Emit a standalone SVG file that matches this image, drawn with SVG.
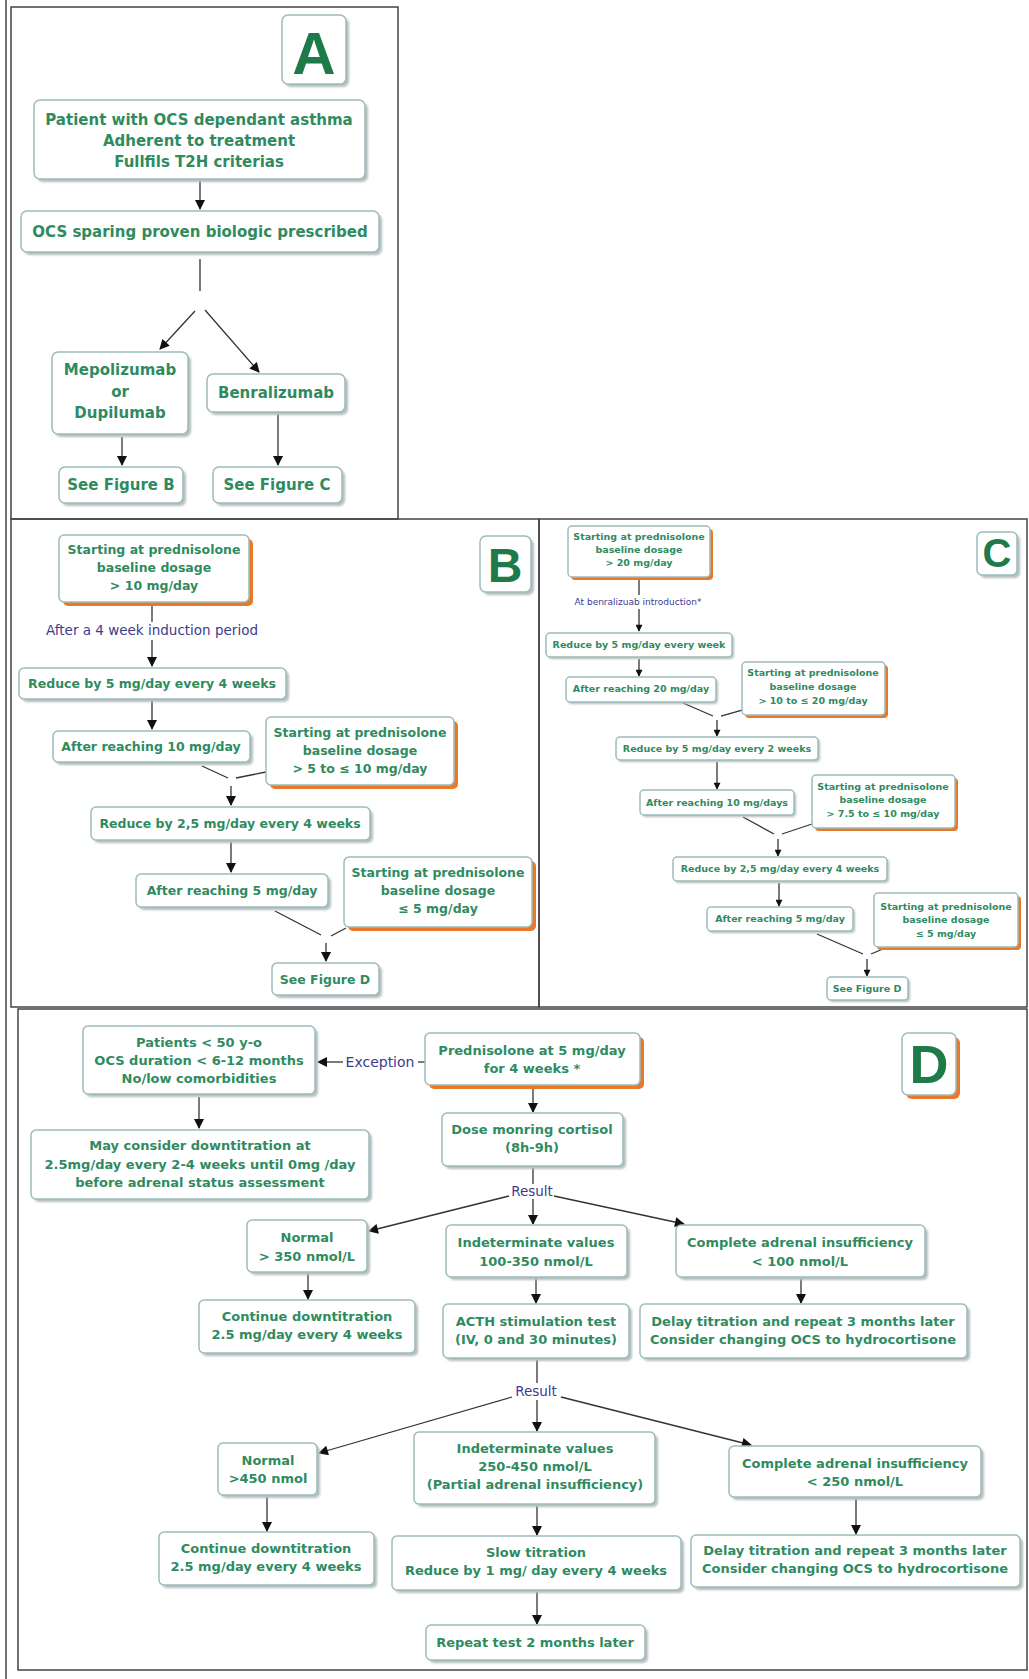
<svg xmlns="http://www.w3.org/2000/svg" width="1029" height="1679" viewBox="0 0 1029 1679">
<defs>
<style>
.frame{fill:none;stroke:#444;stroke-width:1.5}
.box{fill:#fff;stroke:#9dbcbc;stroke-width:1.5}
.sh{fill:#b4bebe;filter:url(#blur)}
.or{fill:#e8792b}
.t{font-family:"DejaVu Sans","Liberation Sans",sans-serif;font-weight:bold;fill:#2f8b5f;text-anchor:middle}
.tA{font-size:15px}
.tB{font-size:12.5px}
.tC{font-size:9.5px}
.tD{font-size:13px}
.lbl{font-family:"DejaVu Sans","Liberation Sans",sans-serif;fill:#3b3b8f;text-anchor:middle}
.big{font-family:"Liberation Sans","DejaVu Sans",sans-serif;font-weight:bold;fill:#1f7a49;text-anchor:middle}
.c{stroke:#333;stroke-width:1.3;fill:none}
.a{marker-end:url(#ah)}
.s{marker-end:url(#ahs)}
</style>
<filter id="blur" x="-10%" y="-10%" width="120%" height="130%"><feGaussianBlur stdDeviation="1.2"/></filter>
<marker id="ah" viewBox="0 0 10 10" refX="9" refY="5" markerWidth="11" markerHeight="10" markerUnits="userSpaceOnUse" orient="auto"><path d="M0,0 L10,5 L0,10 z" fill="#111"/></marker>
<marker id="ahs" viewBox="0 0 10 10" refX="9" refY="5" markerWidth="8" markerHeight="7" markerUnits="userSpaceOnUse" orient="auto"><path d="M0,0 L10,5 L0,10 z" fill="#111"/></marker>
</defs>
<rect width="1029" height="1679" fill="#fff"/>

<g id="frames">
<line class="frame" x1="6" y1="0" x2="6" y2="1679"/>
<rect class="frame" x="11" y="7" width="387" height="512"/>
<rect class="frame" x="11" y="519" width="528" height="488"/>
<rect class="frame" x="539" y="519" width="488" height="488"/>
<rect class="frame" x="18" y="1009" width="1009" height="661"/>
</g>

<g id="connectors">
<!-- A -->
<line class="c a" x1="200" y1="181" x2="200" y2="209"/>
<line class="c" x1="200" y1="259" x2="200" y2="291"/>
<line class="c a" x1="195" y1="311" x2="160" y2="349"/>
<line class="c a" x1="205" y1="310" x2="259" y2="372"/>
<line class="c a" x1="122" y1="437" x2="122" y2="465"/>
<line class="c a" x1="278" y1="414" x2="278" y2="465"/>
<!-- B -->
<line class="c" x1="152" y1="604" x2="152" y2="622"/>
<line class="c a" x1="152" y1="640" x2="152" y2="666"/>
<line class="c a" x1="152" y1="700" x2="152" y2="729"/>
<line class="c" x1="202" y1="766" x2="228" y2="778"/>
<line class="c" x1="266" y1="772" x2="236" y2="778"/>
<line class="c a" x1="231" y1="786" x2="231" y2="805"/>
<line class="c a" x1="231" y1="842" x2="231" y2="872"/>
<line class="c" x1="275" y1="911" x2="321" y2="935"/>
<line class="c" x1="346" y1="928" x2="331" y2="936"/>
<line class="c a" x1="326" y1="943" x2="326" y2="961"/>
<!-- C -->
<line class="c" x1="639" y1="578" x2="639" y2="595"/>
<line class="c s" x1="639" y1="609" x2="639" y2="631"/>
<line class="c s" x1="639" y1="659" x2="639" y2="676"/>
<line class="c" x1="683" y1="703" x2="713" y2="716"/>
<line class="c" x1="742" y1="710" x2="721" y2="716"/>
<line class="c s" x1="717" y1="720" x2="717" y2="736"/>
<line class="c s" x1="717" y1="762" x2="717" y2="789"/>
<line class="c" x1="743" y1="817" x2="774" y2="834"/>
<line class="c" x1="812" y1="824" x2="782" y2="834"/>
<line class="c s" x1="778" y1="839" x2="778" y2="856"/>
<line class="c s" x1="779" y1="883" x2="779" y2="906"/>
<line class="c" x1="817" y1="934" x2="863" y2="954"/>
<line class="c" x1="883" y1="949" x2="871" y2="954"/>
<line class="c s" x1="867" y1="959" x2="867" y2="976"/>
<!-- D -->
<line class="c" x1="425" y1="1062" x2="418" y2="1062"/>
<line class="c a" x1="343" y1="1062" x2="318" y2="1062"/>
<line class="c a" x1="533" y1="1087" x2="533" y2="1112"/>
<line class="c a" x1="199" y1="1097" x2="199" y2="1128"/>
<line class="c" x1="533" y1="1168" x2="533" y2="1184"/>
<line class="c a" x1="533" y1="1199" x2="533" y2="1224"/>
<line class="c a" x1="509" y1="1196" x2="369" y2="1231"/>
<line class="c a" x1="554" y1="1196" x2="684" y2="1224"/>
<line class="c a" x1="308" y1="1274" x2="308" y2="1299"/>
<line class="c a" x1="536" y1="1279" x2="536" y2="1303"/>
<line class="c a" x1="801" y1="1279" x2="801" y2="1303"/>
<line class="c" x1="537" y1="1360" x2="537" y2="1383"/>
<line class="c a" x1="537" y1="1400" x2="537" y2="1431"/>
<line class="c a" x1="512" y1="1397" x2="319" y2="1453"/>
<line class="c a" x1="561" y1="1397" x2="751" y2="1445"/>
<line class="c a" x1="267" y1="1497" x2="267" y2="1531"/>
<line class="c a" x1="537" y1="1506" x2="537" y2="1535"/>
<line class="c a" x1="856" y1="1499" x2="856" y2="1534"/>
<line class="c a" x1="537" y1="1592" x2="537" y2="1624"/>
<!-- labels -->
<text class="lbl" x="152" y="635" font-size="13.5">After a 4 week induction period</text>
<text class="lbl" x="638" y="605" font-size="9">At benralizuab introduction*</text>
<text class="lbl" x="380" y="1067" font-size="14">Exception</text>
<text class="lbl" x="532" y="1196" font-size="13.5">Result</text>
<text class="lbl" x="536" y="1396" font-size="13.5">Result</text>
</g>

<!-- Panel A -->
<g id="labelA"><rect class="sh" x="285" y="18" width="64" height="69" rx="6"/><rect class="box" x="282" y="15" width="64" height="69" rx="6"/><text class="big" x="314" y="74" font-size="60">A</text></g>
<g id="nA1"><rect class="sh" x="37" y="103" width="331" height="79" rx="6"/><rect class="box" x="34" y="100" width="331" height="79" rx="6"/><text class="t tA"><tspan x="199" y="125">Patient with OCS dependant asthma</tspan><tspan x="199" y="146">Adherent to treatment</tspan><tspan x="199" y="167">Fullfils T2H criterias</tspan></text></g>
<g id="nA2"><rect class="sh" x="24" y="214" width="358" height="41" rx="6"/><rect class="box" x="21" y="211" width="358" height="41" rx="6"/><text class="t tA" x="200" y="237">OCS sparing proven biologic prescribed</text></g>
<g id="nA3"><rect class="sh" x="55" y="355" width="136" height="82" rx="6"/><rect class="box" x="52" y="352" width="136" height="82" rx="6"/><text class="t tA"><tspan x="120" y="375">Mepolizumab</tspan><tspan x="120" y="397">or</tspan><tspan x="120" y="418">Dupilumab</tspan></text></g>
<g id="nA4"><rect class="sh" x="210" y="377" width="138" height="38" rx="6"/><rect class="box" x="207" y="374" width="138" height="38" rx="6"/><text class="t tA" x="276" y="398">Benralizumab</text></g>
<g id="nA5"><rect class="sh" x="62" y="470" width="124" height="36" rx="6"/><rect class="box" x="59" y="467" width="124" height="36" rx="6"/><text class="t tA" x="121" y="490">See Figure B</text></g>
<g id="nA6"><rect class="sh" x="216" y="470" width="129" height="36" rx="6"/><rect class="box" x="213" y="467" width="129" height="36" rx="6"/><text class="t tA" x="277" y="490">See Figure C</text></g>

<!-- Panel B -->
<g id="labelB"><rect class="sh" x="483" y="539" width="51" height="56" rx="6"/><rect class="box" x="480" y="536" width="51" height="56" rx="6"/><text class="big" x="505" y="582" font-size="48">B</text></g>
<g id="nB1"><rect class="or" x="63" y="539" width="190" height="67" rx="5"/><rect class="box" x="59" y="535" width="190" height="67" rx="5"/><text class="t tB"><tspan x="154" y="554">Starting at prednisolone</tspan><tspan x="154" y="572">baseline dosage</tspan><tspan x="154" y="590">&gt; 10 mg/day</tspan></text></g>
<g id="nB2"><rect class="sh" x="22" y="671" width="267" height="31" rx="5"/><rect class="box" x="19" y="668" width="267" height="31" rx="5"/><text class="t tB" x="152" y="688">Reduce by 5 mg/day every 4 weeks</text></g>
<g id="nB3"><rect class="sh" x="56" y="734" width="197" height="31" rx="5"/><rect class="box" x="53" y="731" width="197" height="31" rx="5"/><text class="t tB" x="151" y="751">After reaching 10 mg/day</text></g>
<g id="nB4"><rect class="or" x="270" y="721" width="188" height="68" rx="5"/><rect class="box" x="266" y="717" width="188" height="68" rx="5"/><text class="t tB"><tspan x="360" y="737">Starting at prednisolone</tspan><tspan x="360" y="755">baseline dosage</tspan><tspan x="360" y="773">&gt; 5 to ≤ 10 mg/day</tspan></text></g>
<g id="nB5"><rect class="sh" x="94" y="810" width="279" height="33" rx="5"/><rect class="box" x="91" y="807" width="279" height="33" rx="5"/><text class="t tB" x="230" y="828">Reduce by 2,5 mg/day every 4 weeks</text></g>
<g id="nB6"><rect class="sh" x="139" y="877" width="192" height="33" rx="5"/><rect class="box" x="136" y="874" width="192" height="33" rx="5"/><text class="t tB" x="232" y="895">After reaching 5 mg/day</text></g>
<g id="nB7"><rect class="or" x="348" y="861" width="188" height="70" rx="5"/><rect class="box" x="344" y="857" width="188" height="70" rx="5"/><text class="t tB"><tspan x="438" y="877">Starting at prednisolone</tspan><tspan x="438" y="895">baseline dosage</tspan><tspan x="438" y="913">≤ 5 mg/day</tspan></text></g>
<g id="nB8"><rect class="sh" x="275" y="966" width="107" height="32" rx="5"/><rect class="box" x="272" y="963" width="107" height="32" rx="5"/><text class="t tB" x="325" y="984">See Figure D</text></g>

<!-- Panel C -->
<g id="labelC"><rect class="sh" x="980" y="535" width="40" height="43" rx="5"/><rect class="box" x="977" y="532" width="40" height="43" rx="5"/><text class="big" x="997" y="567" font-size="40">C</text></g>
<g id="nC1"><rect class="or" x="571" y="529" width="142" height="51" rx="4"/><rect class="box" x="568" y="526" width="142" height="51" rx="4"/><text class="t tC"><tspan x="639" y="540">Starting at prednisolone</tspan><tspan x="639" y="553">baseline dosage</tspan><tspan x="639" y="566">&gt; 20 mg/day</tspan></text></g>
<g id="nC2"><rect class="sh" x="548" y="635" width="186" height="24" rx="4"/><rect class="box" x="546" y="633" width="186" height="24" rx="4"/><text class="t tC" x="639" y="648">Reduce by 5 mg/day every week</text></g>
<g id="nC3"><rect class="sh" x="568" y="679" width="150" height="25" rx="4"/><rect class="box" x="566" y="677" width="150" height="25" rx="4"/><text class="t tC" x="641" y="692">After reaching 20 mg/day</text></g>
<g id="nC4"><rect class="or" x="745" y="665" width="143" height="53" rx="4"/><rect class="box" x="742" y="662" width="143" height="53" rx="4"/><text class="t tC"><tspan x="813" y="676">Starting at prednisolone</tspan><tspan x="813" y="690">baseline dosage</tspan><tspan x="813" y="704">&gt; 10 to ≤ 20 mg/day</tspan></text></g>
<g id="nC5"><rect class="sh" x="618" y="739" width="202" height="23" rx="4"/><rect class="box" x="616" y="737" width="202" height="23" rx="4"/><text class="t tC" x="717" y="752">Reduce by 5 mg/day every 2 weeks</text></g>
<g id="nC6"><rect class="sh" x="642" y="792" width="154" height="25" rx="4"/><rect class="box" x="640" y="790" width="154" height="25" rx="4"/><text class="t tC" x="717" y="806">After reaching 10 mg/days</text></g>
<g id="nC7"><rect class="or" x="815" y="778" width="143" height="53" rx="4"/><rect class="box" x="812" y="775" width="143" height="53" rx="4"/><text class="t tC"><tspan x="883" y="790">Starting at prednisolone</tspan><tspan x="883" y="803">baseline dosage</tspan><tspan x="883" y="817">&gt; 7.5 to ≤ 10 mg/day</tspan></text></g>
<g id="nC8"><rect class="sh" x="675" y="859" width="214" height="24" rx="4"/><rect class="box" x="673" y="857" width="214" height="24" rx="4"/><text class="t tC" x="780" y="872">Reduce by 2,5 mg/day every 4 weeks</text></g>
<g id="nC9"><rect class="sh" x="709" y="909" width="146" height="24" rx="4"/><rect class="box" x="707" y="907" width="146" height="24" rx="4"/><text class="t tC" x="780" y="922">After reaching 5 mg/day</text></g>
<g id="nC10"><rect class="or" x="877" y="896" width="144" height="54" rx="4"/><rect class="box" x="874" y="893" width="144" height="54" rx="4"/><text class="t tC"><tspan x="946" y="910">Starting at prednisolone</tspan><tspan x="946" y="923">baseline dosage</tspan><tspan x="946" y="937">≤ 5 mg/day</tspan></text></g>
<g id="nC11"><rect class="sh" x="829" y="979" width="81" height="23" rx="4"/><rect class="box" x="827" y="977" width="81" height="23" rx="4"/><text class="t tC" x="867" y="992">See Figure D</text></g>

<!-- Panel D -->
<g id="labelD"><rect class="or" x="906" y="1037" width="54" height="62" rx="6"/><rect class="box" x="902" y="1033" width="54" height="62" rx="6"/><text class="big" x="929" y="1083" font-size="54">D</text></g>
<g id="nD1"><rect class="sh" x="86" y="1029" width="232" height="68" rx="5"/><rect class="box" x="83" y="1026" width="232" height="68" rx="5"/><text class="t tD"><tspan x="199" y="1047">Patients &lt; 50 y-o</tspan><tspan x="199" y="1065">OCS duration &lt; 6-12 months</tspan><tspan x="199" y="1083">No/low comorbidities</tspan></text></g>
<g id="nD2"><rect class="or" x="429" y="1037" width="215" height="52" rx="5"/><rect class="box" x="425" y="1033" width="215" height="52" rx="5"/><text class="t tD"><tspan x="532" y="1055">Prednisolone at 5 mg/day</tspan><tspan x="532" y="1073">for 4 weeks *</tspan></text></g>
<g id="nD3"><rect class="sh" x="34" y="1133" width="338" height="69" rx="5"/><rect class="box" x="31" y="1130" width="338" height="69" rx="5"/><text class="t tD"><tspan x="200" y="1150">May consider downtitration at</tspan><tspan x="200" y="1169">2.5mg/day every 2-4 weeks until 0mg /day</tspan><tspan x="200" y="1187">before adrenal status assessment</tspan></text></g>
<g id="nD4"><rect class="sh" x="445" y="1116" width="181" height="53" rx="5"/><rect class="box" x="442" y="1113" width="181" height="53" rx="5"/><text class="t tD"><tspan x="532" y="1134">Dose monring cortisol</tspan><tspan x="532" y="1152">(8h-9h)</tspan></text></g>
<g id="nD5"><rect class="sh" x="250" y="1223" width="120" height="52" rx="5"/><rect class="box" x="247" y="1220" width="120" height="52" rx="5"/><text class="t tD"><tspan x="307" y="1242">Normal</tspan><tspan x="307" y="1261">&gt; 350 nmol/L</tspan></text></g>
<g id="nD6"><rect class="sh" x="449" y="1228" width="181" height="52" rx="5"/><rect class="box" x="446" y="1225" width="181" height="52" rx="5"/><text class="t tD"><tspan x="536" y="1247">Indeterminate values</tspan><tspan x="536" y="1266">100-350 nmol/L</tspan></text></g>
<g id="nD7"><rect class="sh" x="679" y="1228" width="249" height="52" rx="5"/><rect class="box" x="676" y="1225" width="249" height="52" rx="5"/><text class="t tD"><tspan x="800" y="1247">Complete adrenal insufficiency</tspan><tspan x="800" y="1266">&lt; 100 nmol/L</tspan></text></g>
<g id="nD8"><rect class="sh" x="202" y="1303" width="216" height="53" rx="5"/><rect class="box" x="199" y="1300" width="216" height="53" rx="5"/><text class="t tD"><tspan x="307" y="1321">Continue downtitration</tspan><tspan x="307" y="1339">2.5 mg/day every 4 weeks</tspan></text></g>
<g id="nD9"><rect class="sh" x="446" y="1307" width="186" height="54" rx="5"/><rect class="box" x="443" y="1304" width="186" height="54" rx="5"/><text class="t tD"><tspan x="536" y="1326">ACTH stimulation test</tspan><tspan x="536" y="1344">(IV, 0 and 30 minutes)</tspan></text></g>
<g id="nD10"><rect class="sh" x="643" y="1307" width="327" height="54" rx="5"/><rect class="box" x="640" y="1304" width="327" height="54" rx="5"/><text class="t tD"><tspan x="803" y="1326">Delay titration and repeat 3 months later</tspan><tspan x="803" y="1344">Consider changing OCS to hydrocortisone</tspan></text></g>
<g id="nD11"><rect class="sh" x="221" y="1446" width="99" height="52" rx="5"/><rect class="box" x="218" y="1443" width="99" height="52" rx="5"/><text class="t tD"><tspan x="268" y="1465">Normal</tspan><tspan x="268" y="1483">&gt;450 nmol</tspan></text></g>
<g id="nD12"><rect class="sh" x="417" y="1435" width="241" height="72" rx="5"/><rect class="box" x="414" y="1432" width="241" height="72" rx="5"/><text class="t tD"><tspan x="535" y="1453">Indeterminate values</tspan><tspan x="535" y="1471">250-450 nmol/L</tspan><tspan x="535" y="1489">(Partial adrenal insufficiency)</tspan></text></g>
<g id="nD13"><rect class="sh" x="732" y="1449" width="252" height="51" rx="5"/><rect class="box" x="729" y="1446" width="252" height="51" rx="5"/><text class="t tD"><tspan x="855" y="1468">Complete adrenal insufficiency</tspan><tspan x="855" y="1486">&lt; 250 nmol/L</tspan></text></g>
<g id="nD14"><rect class="sh" x="162" y="1535" width="215" height="53" rx="5"/><rect class="box" x="159" y="1532" width="215" height="53" rx="5"/><text class="t tD"><tspan x="266" y="1553">Continue downtitration</tspan><tspan x="266" y="1571">2.5 mg/day every 4 weeks</tspan></text></g>
<g id="nD15"><rect class="sh" x="395" y="1539" width="289" height="54" rx="5"/><rect class="box" x="392" y="1536" width="289" height="54" rx="5"/><text class="t tD"><tspan x="536" y="1557">Slow titration</tspan><tspan x="536" y="1575">Reduce by 1 mg/ day every 4 weeks</tspan></text></g>
<g id="nD16"><rect class="sh" x="694" y="1538" width="329" height="52" rx="5"/><rect class="box" x="691" y="1535" width="329" height="52" rx="5"/><text class="t tD"><tspan x="855" y="1555">Delay titration and repeat 3 months later</tspan><tspan x="855" y="1573">Consider changing OCS to hydrocortisone</tspan></text></g>
<g id="nD17"><rect class="sh" x="429" y="1628" width="219" height="35" rx="5"/><rect class="box" x="426" y="1625" width="219" height="35" rx="5"/><text class="t tD" x="535" y="1647">Repeat test 2 months later</text></g>
</svg>
